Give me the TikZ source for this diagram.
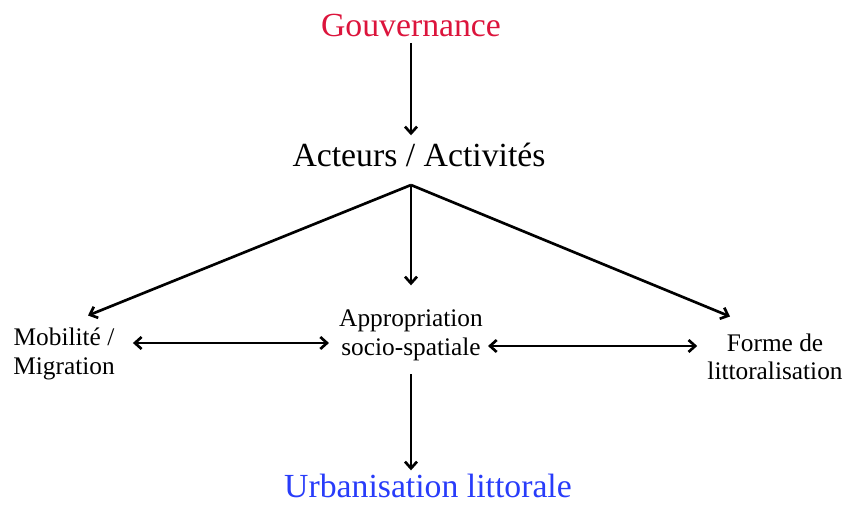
\documentclass[tikz,border=0pt]{standalone}
\usepackage{fontspec}
\setmainfont{Liberation Serif}
\usetikzlibrary{arrows.meta}
\definecolor{govred}{RGB}{220,20,60}
\definecolor{urbblue}{RGB}{40,60,250}

\tikzset{x=0.75pt, y=-0.75pt,
  big/.style={inner sep=0pt, anchor=base, font=\fontsize{25.3}{30}\selectfont},
  small/.style={inner sep=0pt, align=center, font=\fontsize{19}{21.5}\selectfont},
  arr/.style={line width=2pt, -{Straight Barb[length=5pt,width=9pt]}},
  darr/.style={line width=2pt, {Straight Barb[length=5pt,width=9pt]}-{Straight Barb[length=5pt,width=9pt]}}}

\begin{document}
\begin{tikzpicture}
    \useasboundingbox (0,0) rectangle (846,505);
    \node [big, text=govred] (gov) at (411,37) {Gouvernance};
    \node [big] (act) at (419,167) {Acteurs / Activités};
    \node [big, text=urbblue] (urb) at (428,498) {Urbanisation littorale};
    \node [small, font=\fontsize{19}{22}\selectfont] (mob) at (64,354) {Mobilité /\\Migration};
    \node [small] (app) at (411,335) {Appropriation\\socio-spatiale};
    \node [small] (frm) at (775,357) {Forme de\\littoralisation};
    \coordinate (hub) at (411,185);

    \draw [arr] ([yshift=-4pt]gov.south) -- ([shift={(-8,-8)}]act.north);
    \draw [arr] (hub) -- ([shift={(24,-12)}]mob.north);
    \draw [arr] (hub) -- ([yshift=18pt]app.north);
    \draw [arr] (hub) -- ([shift={(-45,-17)}]frm.north);
    \draw [darr] ([shift={(18,-11)}]mob.east) -- ([shift={(-10,8)}]app.west);
    \draw [darr] ([shift={(5,11)}]app.east) -- ([shift={(-10,-11)}]frm.west);
    \draw [arr] ([yshift=-10pt]app.south) -- ([yshift=3pt]app.south |- urb.north);
  \end{tikzpicture}
\end{document}
